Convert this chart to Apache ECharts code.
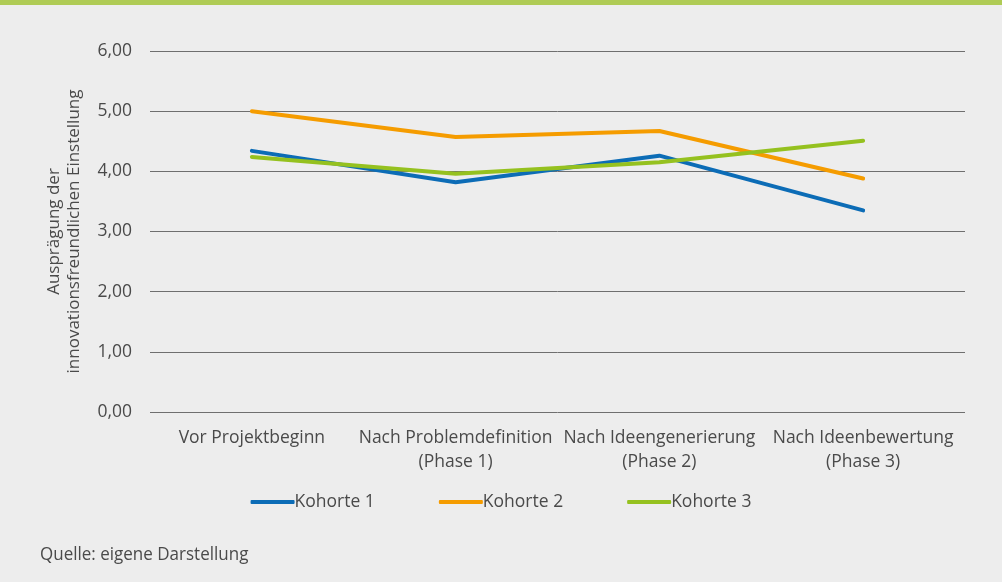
<!DOCTYPE html>
<html><head><meta charset="utf-8">
<script src="https://cdn.jsdelivr.net/npm/echarts@6/dist/echarts.min.js"></script>
<style>html,body{margin:0;padding:0;background:#ededed;}#c{width:1002px;height:582px;}</style>
</head><body><div id="c"></div>
<script>
const categories = ["Vor Projektbeginn", "Nach Problemdefinition\n(Phase 1)", "Nach Ideengenerierung\n(Phase 2)", "Nach Ideenbewertung\n(Phase 3)"];
const kohorte1 = [4.34, 3.82, 4.26, 3.35];
const kohorte2 = [5.00, 4.57, 4.67, 3.88];
const kohorte3 = [4.24, 3.96, 4.15, 4.51];
const seriesNames = ["Kohorte 1", "Kohorte 2", "Kohorte 3"];
const colors = ["#0c6cb6", "#f59c00", "#95c11f"];
const font = "'Open Sans', sans-serif";
const txt = '#4a4a4a';
const chart = echarts.init(document.getElementById('c'), null, {renderer: 'canvas'});
const fmt = v => v.toFixed(2).replace('.', ',');
chart.setOption({
  backgroundColor: '#ededed',
  animation: false,
  graphic: [
    {type: 'rect', shape: {x: 0, y: 0, width: 1002, height: 5}, style: {fill: '#afcb55'}},
    {type: 'text', x: 40, y: 545, scaleX: 0.895, style: {text: 'Quelle: eigene Darstellung', fontFamily: font, fontSize: 19, fill: txt}}
  ],
  grid: {left: 150, right: 37, top: 51, bottom: 170},
  legend: {
    bottom: 66, left: 'center',
    itemWidth: 44, itemHeight: 4, itemGap: 64,
    icon: 'roundRect',
    textStyle: {fontFamily: font, fontSize: 17.5, color: txt, padding: [0, 0, 0, -5]},
    data: seriesNames
  },
  xAxis: {
    type: 'category', data: categories, boundaryGap: true,
    axisLine: {show: false}, axisTick: {show: false},
    axisLabel: {fontFamily: font, fontSize: 17.5, color: txt, margin: 14, lineHeight: 24, interval: 0}
  },
  yAxis: {
    type: 'value', min: 0, max: 6, interval: 1,
    name: 'Ausprägung der\ninnovationsfreundlichen Einstellung',
    nameLocation: 'middle', nameGap: 66, nameRotate: 90,
    nameTextStyle: {fontFamily: font, fontSize: 17, color: txt, lineHeight: 20},
    axisLine: {show: false}, axisTick: {show: false},
    axisLabel: {fontFamily: font, fontSize: 17.5, color: txt, margin: 18, formatter: fmt},
    splitLine: {lineStyle: {color: '#6f6f6f', width: 1}}
  },
  series: [kohorte1, kohorte2, kohorte3].map((d, i) => ({
    name: seriesNames[i], type: 'line', data: d, symbol: 'none',
    lineStyle: {width: 4, color: colors[i], cap: 'round', join: 'round'},
    itemStyle: {color: colors[i]}
  }))
});
</script></body></html>
